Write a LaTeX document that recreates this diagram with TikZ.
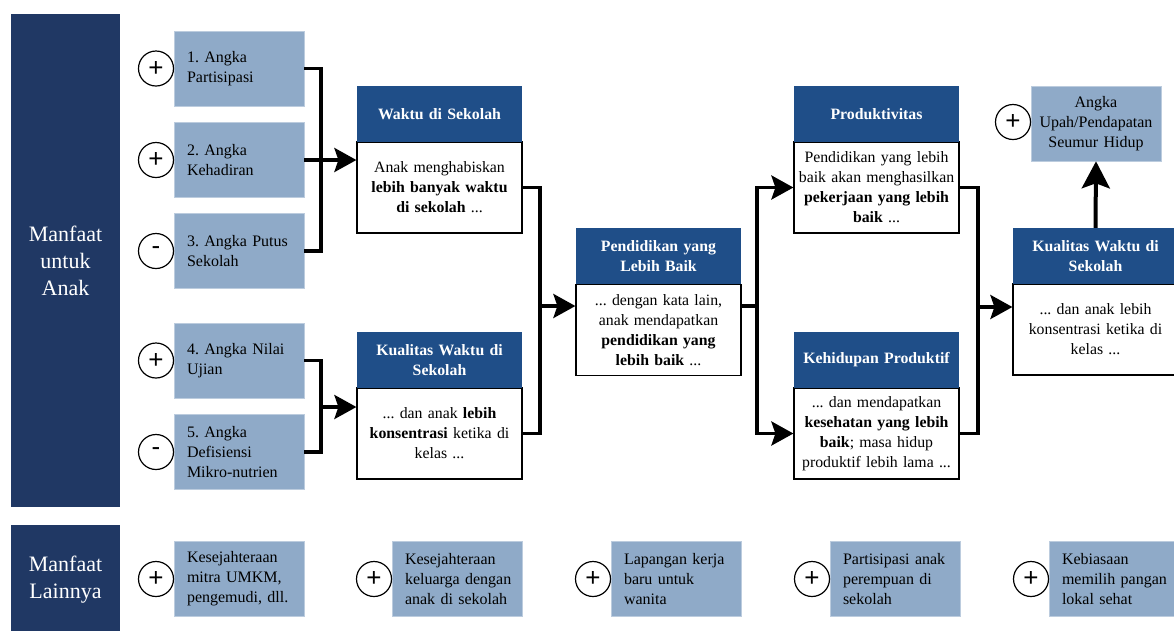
\documentclass[tikz,border=0pt]{standalone}
\usepackage{fontspec}
\setmainfont{Liberation Serif}
\newfontfamily\signfont{Liberation Sans}
\usetikzlibrary{arrows.meta}
\definecolor{navy}{HTML}{203864}
\definecolor{hdblue}{HTML}{1F4E88}
\definecolor{lightbox}{HTML}{8FAAC8}
\hyphenpenalty=10000
\exhyphenpenalty=10000
\frenchspacing
\begin{document}
\begin{tikzpicture}[x=1pt,y=-1pt,
  side/.style={fill=navy, text=white, minimum width=109, inner sep=0, align=center, font=\fontsize{22}{27}\selectfont},
  fac/.style={fill=lightbox, draw=lightbox!60!white, line width=0.6pt, minimum width=130, minimum height=75, text width=104, inner xsep=13, inner ysep=0, align=left, font=\fontsize{16}{20}\selectfont},
  sign/.style={draw, circle, fill=white, line width=1.2pt, minimum size=35, inner sep=0, font=\signfont\fontsize{26}{26}\selectfont},
  head/.style={fill=hdblue, text=white, minimum width=165, minimum height=56, text width=165, inner xsep=0, inner ysep=0, align=center, font=\bfseries\fontsize{15.8}{20}\selectfont},
  body/.style={draw, fill=white, line width=1.2pt, minimum width=165, minimum height=91, text width=165, inner xsep=0, inner ysep=0, align=center, font=\fontsize{15.8}{20}\selectfont},
  conn/.style={line width=3.5pt},
  arr/.style={line width=3.5pt, -{Stealth[length=22pt,width=24pt,inset=4pt]}},
  bigarr/.style={line width=4pt, -{Stealth[length=27pt,width=28pt,inset=5pt]}}]
\useasboundingbox (0,0) rectangle (1174,630);

\node[side, minimum height=493] (anak) at (65.5,260.5) {Manfaat\\untuk\\Anak};
\node[side, minimum height=110] (lain) at (65.5,580) {Manfaat\\Lainnya};

\node[fac] (f1) at (239,68.5) {1. Angka\\Partisipasi};
\node[fac] (f2) at (239,160) {2. Angka\\Kehadiran};
\node[fac] (f3) at (239,251) {3. Angka~Putus\\Sekolah};
\node[fac] (f4) at (239,360.5) {4. Angka Nilai\\Ujian};
\node[fac] (f5) at (239,452) {5. Angka\\Defisiensi\\Mikro-nutrien};

\node[sign] (s1) at (156,68.5) {+};
\node[sign] (s2) at (156,160) {+};
\node[sign] (s3) at (156,251) {-};
\node[sign] (s4) at (156,360.5) {+};
\node[sign] (s5) at (156,452) {-};

\node[body] (waktub) at (439.5,187.5) {Anak menghabiskan\\\textbf{lebih banyak waktu}\\\textbf{di sekolah} ...};
\node[head] (waktuh) at (439.5,114) {Waktu di Sekolah};
\node[body] (kual1b) at (439.5,433.5) {... dan anak \textbf{lebih}\\\textbf{konsentrasi} ketika di\\kelas ...};
\node[head] (kual1h) at (439.5,360) {Kualitas Waktu di\\Sekolah};

\node[body] (pendb) at (658.5,330) {... dengan kata lain,\\anak mendapatkan\\\textbf{pendidikan yang}\\\textbf{lebih baik} ...};
\node[head] (pendh) at (658.5,256) {Pendidikan yang\\Lebih Baik};

\node[body] (produkb) at (876.5,187.5) {Pendidikan yang lebih\\baik~akan~menghasilkan\\\textbf{pekerjaan yang lebih}\\\textbf{baik} ...};
\node[head] (produkh) at (876.5,114) {Produktivitas};
\node[body] (hidupb) at (876.5,433.5) {... dan mendapatkan\\\textbf{kesehatan yang lebih}\\\textbf{baik}; masa hidup\\produktif lebih lama ...};
\node[head] (hiduph) at (876.5,360) {Kehidupan Produktif};

\node[body] (kual2b) at (1095.5,329.5) {... dan anak lebih\\konsentrasi ketika di\\kelas ...};
\node[head] (kual2h) at (1095.5,256) {Kualitas Waktu di\\Sekolah};

\node[fac, align=center, text width=126, inner xsep=2] (upah) at (1096,123.5) {Angka\\Upah/Pendapatan\\Seumur Hidup};
\node[sign] (s6) at (1013,122) {+};

\node[fac] (b1) at (239,579) {Kesejahteraan\\mitra UMKM,\\pengemudi,~dll.};
\node[fac] (b2) at (457,579) {Kesejahteraan\\keluarga~dengan\\anak di sekolah};
\node[fac] (b3) at (676,579) {Lapangan kerja\\baru untuk\\wanita};
\node[fac] (b4) at (895,579) {Partisipasi anak\\perempuan di\\sekolah};
\node[fac] (b5) at (1114,579) {Kebiasaan\\memilih~pangan\\lokal sehat};

\node[sign] (t1) at (156,579) {+};
\node[sign] (t2) at (374,579) {+};
\node[sign] (t3) at (593,579) {+};
\node[sign] (t4) at (812,579) {+};
\node[sign] (t5) at (1031,579) {+};

\coordinate (j1) at (321,160);
\coordinate (j2) at (321,407);
\coordinate (j3) at (540,306);
\coordinate (j4) at (757,306);
\coordinate (j5) at (978,307);

\path[draw,conn] (f1.east) -| (j1) |- (f3.east);
\path[draw,arr] (f2.east) -- (f2.east -| waktub.west);
\path[draw,conn] (f4.east) -| (j2) |- (f5.east);
\path[draw,arr] (j2) -- (j2 -| kual1b.west);

\path[draw,conn] (waktub.east) -| (j3) |- (kual1b.east);
\path[draw,arr] (j3) -- (j3 -| pendb.west);

\path[draw,conn] (j3 -| pendb.east) -- (j4);
\path[draw,arr] (j4) |- (produkb.west);
\path[draw,arr] (j4) |- (hidupb.west);

\path[draw,conn] (produkb.east) -| (j5) |- (hidupb.east);
\path[draw,arr] (j5) -- (j5 -| kual2b.west);
\path[draw,bigarr] (kual2h.north) -- (upah.south);

\end{tikzpicture}
\end{document}
